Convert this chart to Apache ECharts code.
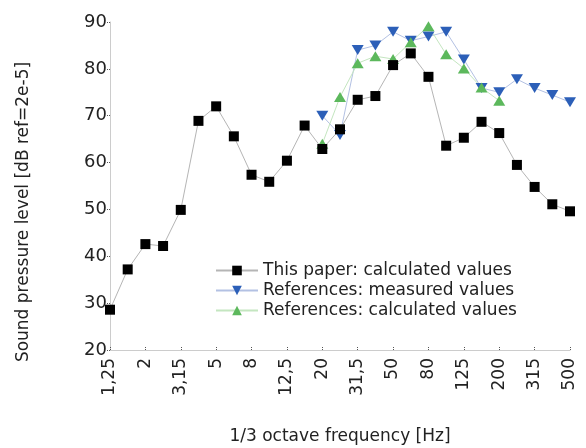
<!DOCTYPE html>
<html>
<head>
<meta charset="utf-8">
<script src="https://cdn.jsdelivr.net/npm/echarts@6/dist/echarts.min.js"></script>
<style>
  html, body { margin: 0; padding: 0; background: #fff; }
  #main { width: 586px; height: 448px; }
</style>
</head>
<body>
<div id="main"></div>
<script>
// 1/3 octave band centre frequencies
var freqs = ['1,25', '1,6', '2', '2,5', '3,15', '4', '5', '6,3', '8', '10', '12,5', '16', '20', '25',
  '31,5', '40', '50', '63', '80', '100', '125', '160', '200', '250', '315', '400', '500'];
// this paper: calculated values
var paperCalc = [28.6, 37.2, 42.6, 42.2, 49.9, 68.9, 72.0, 65.6, 57.4, 55.9, 60.4, 67.9, 62.9, 67.1,
  73.4, 74.2, 80.8, 83.3, 78.3, 63.6, 65.3, 68.7, 66.3, 59.5, 54.8, 51.1, 49.6];
// references: measured values (from 20 Hz)
var refMeasured = [null, null, null, null, null, null, null, null, null, null, null, null, 70.0, 65.9,
  84.0, 85.0, 87.9, 86.0, 86.9, 87.9, 82.0, 75.9, 75.0, 77.8, 75.9, 74.4, 72.9];
// references: calculated values (20 - 200 Hz)
var refCalc = [null, null, null, null, null, null, null, null, null, null, null, null, 64.0, 74.0,
  81.2, 82.7, 82.1, 85.7, 89.1, 83.1, 80.1, 76.0, 73.2, null, null, null, null];

var myChart = echarts.init(document.getElementById('main'));
var font = 'DejaVu Sans';
var option = {
  animation: false,
  backgroundColor: '#fff',
  grid: { left: 110, right: 16, top: 22, bottom: 98, outerBoundsMode: 'none', containLabel: false },
  legend: {
    left: 210, top: 257,
    orient: 'vertical',
    itemWidth: 42, itemHeight: 12, itemGap: 3,
    textStyle: { fontFamily: font, fontSize: 17, color: '#222' },
    data: ['This paper: calculated values', 'References: measured values', 'References: calculated values']
  },
  xAxis: {
    type: 'category',
    data: freqs,
    boundaryGap: false,
    name: '1/3 octave frequency [Hz]',
    nameLocation: 'middle',
    nameGap: 78,
    nameTextStyle: { fontFamily: font, fontSize: 17, color: '#222' },
    axisLine: { lineStyle: { color: '#ccc', width: 1 } },
    axisTick: { inside: true, length: 3, interval: 1, lineStyle: { color: '#555', type: 'dotted' } },
    axisLabel: { interval: 1, rotate: 90, fontFamily: font, fontSize: 17, color: '#222', margin: 8 },
    splitLine: { show: false }
  },
  yAxis: {
    type: 'value',
    min: 20, max: 90, interval: 10,
    name: 'Sound pressure level [dB ref=2e-5]',
    nameLocation: 'middle',
    nameGap: 78,
    nameTextStyle: { fontFamily: font, fontSize: 17, color: '#222', padding: [0, 52, 0, 0] },
    axisLine: { show: true, lineStyle: { color: '#ccc', width: 1 } },
    axisTick: { show: true, length: 3, lineStyle: { color: '#555', type: 'dotted' } },
    axisLabel: { fontFamily: font, fontSize: 18, color: '#222', margin: 3 },
    splitLine: { show: false }
  },
  series: [
    {
      name: 'This paper: calculated values',
      type: 'line',
      data: paperCalc,
      symbol: 'rect', symbolSize: 10,
      itemStyle: { color: '#000' },
      lineStyle: { color: '#b5b5b5', width: 1 },
      z: 3
    },
    {
      name: 'References: measured values',
      type: 'line',
      data: refMeasured,
      symbol: 'triangle', symbolRotate: 180, symbolSize: [12, 10],
      itemStyle: { color: '#2c5fb8' },
      lineStyle: { color: '#b3c1e3', width: 1 },
      z: 2
    },
    {
      name: 'References: calculated values',
      type: 'line',
      data: refCalc,
      symbol: 'triangle', symbolSize: [12, 10],
      itemStyle: { color: '#5cb85c' },
      lineStyle: { color: '#c4e6c0', width: 1 },
      z: 2
    }
  ]
};
myChart.setOption(option);
</script>
</body>
</html>
